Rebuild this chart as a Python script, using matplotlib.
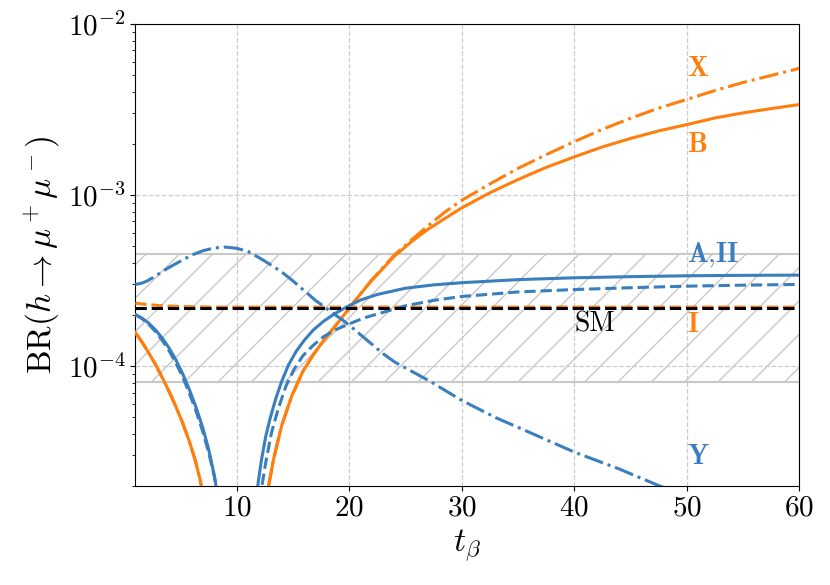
import numpy as np
import matplotlib
matplotlib.use("Agg")
import matplotlib.pyplot as plt

plt.rcParams["font.family"] = "serif"
plt.rcParams["font.serif"] = ["cmr10"]
plt.rcParams["mathtext.fontset"] = "cm"
plt.rcParams["axes.unicode_minus"] = False
plt.rcParams["axes.formatter.use_mathtext"] = True
plt.rcParams["hatch.color"] = "#b0b0b0"
plt.rcParams["hatch.linewidth"] = 1.0

blue = "#3a7ebd"
orange = "#ff7f0e"

# type A / II (blue solid)
a_x = [1, 1.6, 2.2, 2.8, 3.4, 4.0, 4.6, 5.2, 5.8, 6.4, 7.0, 7.5, 8.0, 8.4,
       11.6, 11.9, 12.2, 12.6, 13.0, 13.5, 14.0, 14.6, 15.3, 16.0, 16.8, 17.7, 18.7,
       19.7, 21.0, 22.5, 25, 27.5, 30, 35, 40, 45, 50, 55, 60]
a_y = [2.0e-4, 1.905e-4, 1.78e-4, 1.625e-4, 1.455e-4, 1.276e-4, 1.089e-4, 9.04e-5, 7.3e-5,
       5.73e-5, 4.35e-5, 3.3e-5, 2.33e-5, 1.61e-5,
       1.1e-5, 2.04e-5, 2.8e-5, 3.9e-5, 5.0e-5, 6.5e-5, 8.1e-5, 1.01e-4, 1.22e-4, 1.41e-4,
       1.62e-4, 1.82e-4, 2.02e-4, 2.2e-4, 2.43e-4, 2.62e-4, 2.85e-4, 2.98e-4, 3.07e-4,
       3.2e-4, 3.28e-4, 3.33e-4, 3.37e-4, 3.39e-4, 3.40e-4]

# blue dashed
d_x = [1, 1.6, 2.2, 2.8, 3.4, 4.0, 4.6, 5.2, 5.8, 6.4, 7.0, 7.5, 8.0, 8.4, 8.7,
       11.9, 12.2, 12.6, 13.1, 13.7, 14.4, 15.1, 15.9, 16.8, 17.7, 18.7, 19.9, 21.3,
       22.8, 25, 27.5, 30, 35, 40, 45, 50, 55, 60]
d_y = [2.0e-4, 1.89e-4, 1.75e-4, 1.59e-4, 1.41e-4, 1.23e-4, 1.045e-4, 8.65e-5, 6.95e-5,
       5.45e-5, 4.13e-5, 3.15e-5, 2.3e-5, 1.7e-5, 1.3e-5,
       1.12e-5, 1.9e-5, 2.75e-5, 4.07e-5, 5.62e-5, 7.67e-5, 9.55e-5, 1.15e-4, 1.32e-4,
       1.48e-4, 1.62e-4, 1.75e-4, 1.91e-4, 2.04e-4, 2.25e-4, 2.42e-4, 2.55e-4, 2.71e-4,
       2.8e-4, 2.87e-4, 2.93e-4, 2.97e-4, 3.0e-4]

# type Y (blue dash-dot)
y_x = [1, 1.5, 2, 2.5, 3, 4, 5, 6, 7, 8, 9, 10, 11, 12, 13, 14, 15, 15.7, 16.3, 17, 17.6,
       18.5, 19.5, 20.5, 21.3, 22.2, 23.1, 24.1, 25.2, 27.1, 30, 33, 36, 40, 44, 47.5, 50]
y_y = [3.0e-4, 3.04e-4, 3.13e-4, 3.27e-4, 3.43e-4, 3.77e-4, 4.1e-4, 4.45e-4, 4.72e-4,
       4.9e-4, 4.96e-4, 4.88e-4, 4.68e-4, 4.3e-4, 3.92e-4, 3.55e-4, 3.15e-4, 2.87e-4,
       2.66e-4, 2.42e-4, 2.27e-4, 2.05e-4, 1.84e-4, 1.63e-4, 1.47e-4, 1.31e-4, 1.17e-4,
       1.05e-4, 9.6e-5, 8.2e-5, 6.3e-5, 5.0e-5, 4.1e-5, 3.14e-5, 2.5e-5, 2.0e-5, 1.75e-5]

# type B (orange solid)
b_x = [1, 1.6, 2.2, 2.8, 3.4, 4.0, 4.6, 5.2, 5.8, 6.3, 6.8, 7.1,
       12.5, 12.85, 13.3, 14.0, 14.9, 15.9, 16.8, 17.7, 18.6, 19.5, 20.5, 22, 24, 25.5,
       27, 28.5, 30, 32.5, 35, 37.5, 40, 42.5, 45, 47.5, 50, 52.5, 55, 57.5, 60]
b_y = [1.57e-4, 1.38e-4, 1.19e-4, 1.02e-4, 8.55e-5, 7.1e-5, 5.8e-5, 4.66e-5, 3.63e-5,
       2.85e-5, 2.11e-5, 1.6e-5,
       1.12e-5, 2.0e-5, 2.88e-5, 4.47e-5, 6.68e-5, 9.33e-5, 1.16e-4, 1.40e-4, 1.66e-4,
       1.97e-4, 2.4e-4, 3.16e-4, 4.37e-4, 5.31e-4, 6.3e-4, 7.28e-4, 8.4e-4, 1.03e-3,
       1.23e-3, 1.45e-3, 1.67e-3, 1.91e-3, 2.14e-3, 2.37e-3, 2.58e-3, 2.82e-3, 3.02e-3,
       3.2e-3, 3.38e-3]

# type X (orange dash-dot)
x_x = [1, 1.6, 2.2, 2.8, 3.4, 4.0, 4.6, 5.2, 5.8, 6.3, 6.8, 7.1,
       12.5, 12.85, 13.3, 14.0, 14.9, 15.9, 16.8, 17.7, 18.6, 19.5, 20.5, 22, 24, 25.5,
       27, 28.5, 30, 32.5, 35, 37.5, 40, 42.5, 45, 47.5, 50, 52.5, 55, 57.5, 60]
x_y = [1.57e-4, 1.38e-4, 1.19e-4, 1.02e-4, 8.55e-5, 7.1e-5, 5.8e-5, 4.66e-5, 3.63e-5,
       2.85e-5, 2.11e-5, 1.6e-5,
       1.12e-5, 2.0e-5, 2.88e-5, 4.47e-5, 6.68e-5, 9.33e-5, 1.16e-4, 1.40e-4, 1.66e-4,
       1.97e-4, 2.4e-4, 3.18e-4, 4.45e-4, 5.43e-4, 6.6e-4, 7.94e-4, 9.3e-4, 1.16e-3,
       1.43e-3, 1.72e-3, 2.05e-3, 2.42e-3, 2.81e-3, 3.22e-3, 3.62e-3, 4.08e-3, 4.55e-3,
       5.0e-3, 5.5e-3]

# type I (orange dashed)
i_x = [1, 2, 3, 4, 6, 8, 10, 15, 20, 30, 40, 50, 60]
i_y = [2.33e-4, 2.29e-4, 2.26e-4, 2.24e-4, 2.22e-4, 2.21e-4, 2.21e-4, 2.21e-4, 2.21e-4,
       2.21e-4, 2.21e-4, 2.21e-4, 2.21e-4]

sm_br = 2.19e-4
band_lo, band_hi = 8.1e-5, 4.5e-4

fig = plt.figure(figsize=(8.3, 5.85), dpi=100)
ax = fig.add_axes([0.163, 0.170, 0.800, 0.789])

ax.fill_between([1, 60], band_lo, band_hi, facecolor="none", edgecolor="#c8c8c8",
                hatch="/", linewidth=0, zorder=1)
ax.axhline(band_lo, color="#c8c8c8", lw=1.5, zorder=1)
ax.axhline(band_hi, color="#c8c8c8", lw=1.5, zorder=1)

ax.plot(x_x, x_y, color=orange, ls="-.", lw=2.2, zorder=3)
ax.plot(b_x, b_y, color=orange, ls="-", lw=2.2, zorder=3)
ax.plot(i_x, i_y, color=orange, ls="--", lw=2.2, zorder=3)
ax.plot(a_x, a_y, color=blue, ls="-", lw=2.2, zorder=3)
ax.plot(d_x, d_y, color=blue, ls="--", lw=2.2, zorder=3)
ax.plot(y_x, y_y, color=blue, ls="-.", lw=2.2, zorder=3)
ax.axhline(sm_br, color="black", ls="--", lw=2.2, zorder=4)

ax.set_yscale("log")
ax.set_xlim(1, 60)
ax.set_ylim(2e-5, 1e-2)
ax.grid(True, which="major", ls="--", color="#cccccc", lw=0.9)
ax.tick_params(labelsize=21)
ax.set_xlabel(r"$t_\beta$", fontsize=24)
ax.set_ylabel(r"$\mathrm{BR}(h\to\mu^+\mu^-)$", fontsize=24)

ax.text(50, 5.5e-3, r"$\mathbf{X}$", color=orange, fontsize=20, va="center")
ax.text(50, 1.97e-3, r"$\mathbf{B}$", color=orange, fontsize=20, va="center")
ax.text(50, 4.46e-4, r"$\mathbf{A{,}II}$", color=blue, fontsize=20, va="center")
ax.text(50, 1.75e-4, r"$\mathbf{I}$", color=orange, fontsize=20, va="center")
ax.text(40, 1.75e-4, "SM", color="black", fontsize=20, va="center")
ax.text(50, 2.94e-5, r"$\mathbf{Y}$", color=blue, fontsize=20, va="center")

fig.savefig("out.png", dpi=100)
